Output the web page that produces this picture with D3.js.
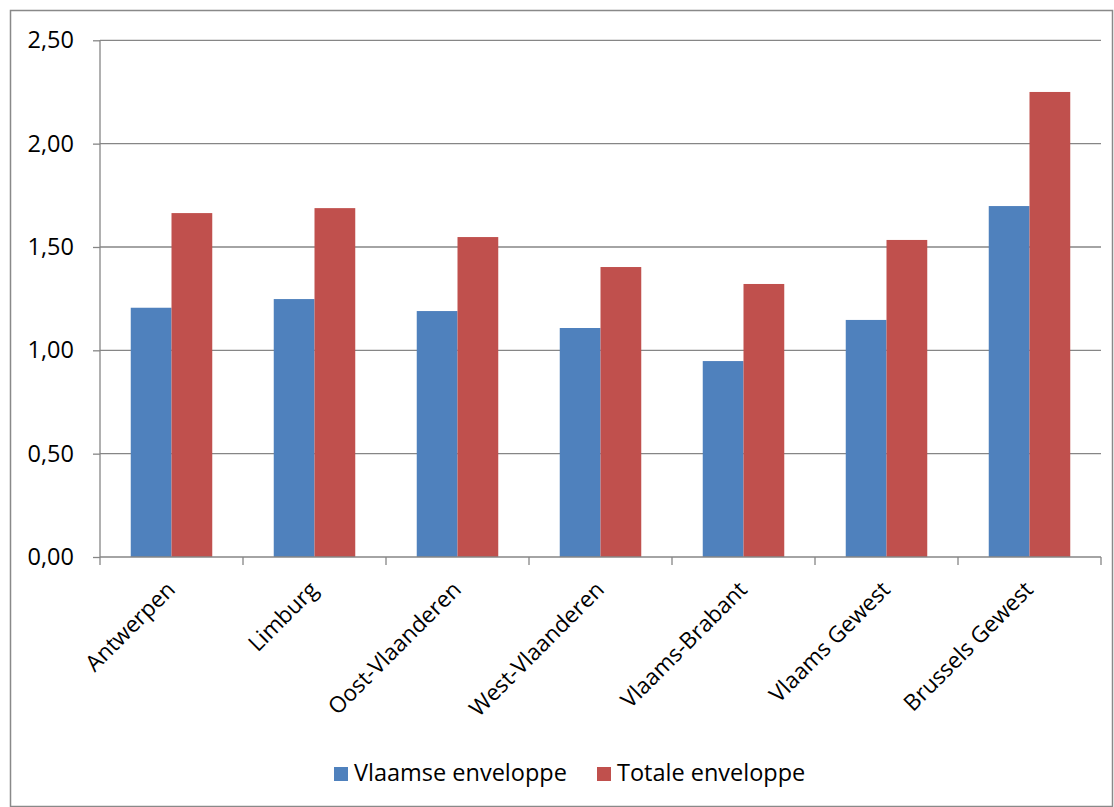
<!DOCTYPE html>
<html><head><meta charset="utf-8">
<script src="https://cdn.jsdelivr.net/npm/d3@7"></script>
<style>body{margin:0;background:#fff;} svg{display:block;font-family:"Open Sans",sans-serif;}</style>
</head><body>
<svg id="c" width="1114" height="807"></svg>
<script>
const categories = ["Antwerpen","Limburg","Oost-Vlaanderen","West-Vlaanderen","Vlaams-Brabant","Vlaams Gewest","Brussels Gewest"];
const seriesNames = ["Vlaamse enveloppe","Totale enveloppe"];
const vlaamse = [1.206,1.248,1.19,1.108,0.948,1.147,1.698];
const totale = [1.664,1.688,1.548,1.403,1.321,1.534,2.25];
const yTicks = [0,0.5,1,1.5,2,2.5];
const colors = ["#4F81BD","#C0504D"];

(function(){
const FS = 23.5;
const svg = d3.select("#c");
svg.append("rect").attr("x",10.5).attr("y",10.5).attr("width",1102).attr("height",796)
  .attr("fill","#fff").attr("stroke","#898989").attr("stroke-width",1.5);

const pL=100, pR=1101, pT=40.3, pB=557;
const x = d3.scaleBand().domain(categories).range([pL,pR]).paddingInner(0.43).paddingOuter(0.215);
const xs = d3.scaleBand().domain(seriesNames).range([0,x.bandwidth()]);
const y = d3.scaleLinear().domain([0,2.5]).range([pB,pT]);
const fmt = v => d3.format(".2f")(v).replace(".",",");

svg.append("g").selectAll("line").data(yTicks.filter(d=>d>0)).join("line")
  .attr("x1",pL).attr("x2",pR).attr("y1",d=>y(d)).attr("y2",d=>y(d))
  .attr("stroke","#868686").attr("stroke-width",1.3);

const data = categories.map((c,i)=>({c, vals:[vlaamse[i],totale[i]]}));
const g = svg.append("g");
data.forEach(d=>{
  d.vals.forEach((v,j)=>{
    g.append("rect").attr("x",x(d.c)+xs(seriesNames[j])).attr("width",xs.bandwidth())
     .attr("y",y(v)).attr("height",y(0)-y(v)).attr("fill",colors[j]);
  });
});

const ya = svg.append("g").attr("transform",`translate(${pL},0)`)
  .call(d3.axisLeft(y).tickValues(yTicks).tickFormat(fmt).tickSize(7).tickPadding(19));
ya.select(".domain").attr("stroke","#868686").attr("stroke-width",1.3).attr("d",`M0,${pT}V${pB}`);
ya.selectAll(".tick line").attr("stroke","#868686").attr("stroke-width",1.3);
ya.selectAll(".tick text").attr("font-size",FS).attr("fill","#000").attr("font-family","'Open Sans',sans-serif");

const xa = svg.append("g").attr("transform",`translate(0,${pB})`)
  .call(d3.axisBottom(x).tickSize(0).tickFormat(""));
xa.select(".domain").attr("stroke","#868686").attr("stroke-width",1.3).attr("d",`M${pL},0H${pR}`);
const step = (pR-pL)/categories.length;
xa.selectAll(".sep").data(d3.range(categories.length+1)).join("line")
  .attr("x1",i=>pL+i*step).attr("x2",i=>pL+i*step).attr("y1",0).attr("y2",8)
  .attr("stroke","#868686").attr("stroke-width",1.3);
svg.append("g").selectAll("text").data(categories).join("text")
  .attr("transform",d=>`translate(${x(d)+x.bandwidth()/2+5},${pB+34}) rotate(-45)`)
  .attr("text-anchor","end").attr("font-size",22.5).attr("fill","#000").text(d=>d);

const lg = svg.append("g");
const lx = [334, 597];
seriesNames.forEach((n,i)=>{
  lg.append("rect").attr("x",lx[i]).attr("y",767).attr("width",14).attr("height",14).attr("fill",colors[i]);
  lg.append("text").attr("x",lx[i]+20).attr("y",781).attr("font-size",FS).attr("fill","#000").text(n);
});
})();
</script>
</body></html>
